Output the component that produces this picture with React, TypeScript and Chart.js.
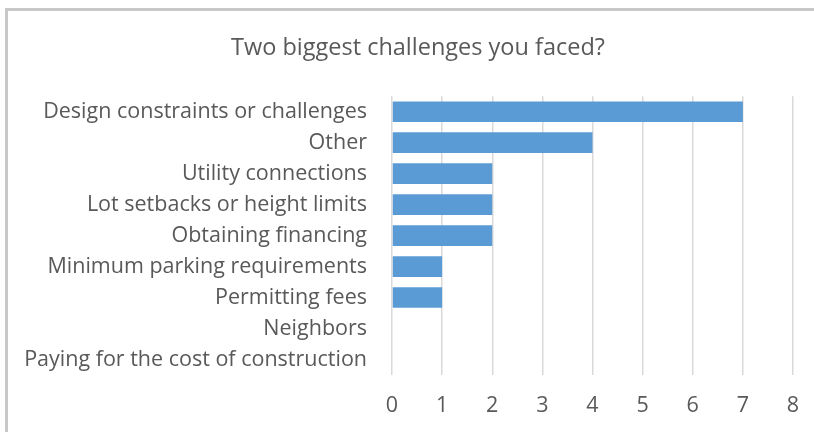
import React, { useEffect, useRef } from "react";
import { Chart, registerables } from "chart.js";

Chart.register(...registerables);

const titleText = "Two biggest challenges you faced?";
const categories = [
  "Design constraints or challenges",
  "Other",
  "Utility connections",
  "Lot setbacks or height limits",
  "Obtaining financing",
  "Minimum parking requirements",
  "Permitting fees",
  "Neighbors",
  "Paying for the cost of construction",
];
const counts = [7, 4, 2, 2, 2, 1, 1, 0, 0];
const xMin = 0;
const xMax = 8;
const xStep = 1;

const FONT = "'Open Sans', sans-serif";
const TEXT = "#595959";

const titleShift = {
  id: "titleShift",
  afterLayout(chart: any) {
    const tb = chart.titleBlock;
    if (tb) {
      tb.left += 36;
    }
  },
};

export default function App() {
  const ref = useRef<HTMLCanvasElement | null>(null);
  useEffect(() => {
    if (!ref.current) return;
    const chart = new Chart(ref.current, {
      type: "bar",
      data: {
        labels: categories,
        datasets: [
          {
            data: counts,
            backgroundColor: "#5b9bd5",
            borderWidth: 0,
            barPercentage: 0.665,
            categoryPercentage: 1,
          },
        ],
      },
      plugins: [titleShift],
      options: {
        indexAxis: "y",
        animation: false,
        responsive: false,
        maintainAspectRatio: false,
        layout: { padding: { left: 0, right: 14, top: 0, bottom: 0 } },
        plugins: {
          legend: { display: false },
          tooltip: { enabled: false },
          title: {
            display: true,
            text: titleText,
            color: TEXT,
            font: { family: FONT, size: 23.5, weight: "normal", lineHeight: 1.2 },
            padding: { top: 34, bottom: 34 },
          },
        },
        scales: {
          x: {
            min: xMin,
            max: xMax,
            afterFit: (scale: any) => {
              scale.height = 57;
              scale.paddingRight = 21;
              scale.paddingLeft = 0;
            },
            ticks: {
              stepSize: xStep,
              color: TEXT,
              font: { family: FONT, size: 21.5, lineHeight: 1.2 },
              padding: 18,
            },
            grid: { color: "#d9d9d9", lineWidth: 1.5, drawTicks: false },
            border: { display: false },
          },
          y: {
            afterFit: (scale: any) => {
              scale.width = 392;
            },
            ticks: {
              color: TEXT,
              font: { family: FONT, size: 21.5 },
              padding: 25,
              autoSkip: false,
            },
            grid: { display: false, drawTicks: false },
            border: { display: false },
          },
        },
      },
    });
    return () => chart.destroy();
  }, []);
  return (
    <div style={{ position: "fixed", left: 0, top: 0, width: 814, height: 432, background: "#fff", overflow: "hidden" }}>
      <canvas ref={ref} width={814} height={432} style={{ position: "absolute", left: 0, top: 0 }} />
      <div
        style={{
          position: "absolute",
          left: 5,
          top: 8,
          width: 900,
          height: 500,
          borderLeft: "3px solid #c8c8c8",
          borderTop: "3px solid #c8c8c8",
          pointerEvents: "none",
        }}
      />
    </div>
  );
}
